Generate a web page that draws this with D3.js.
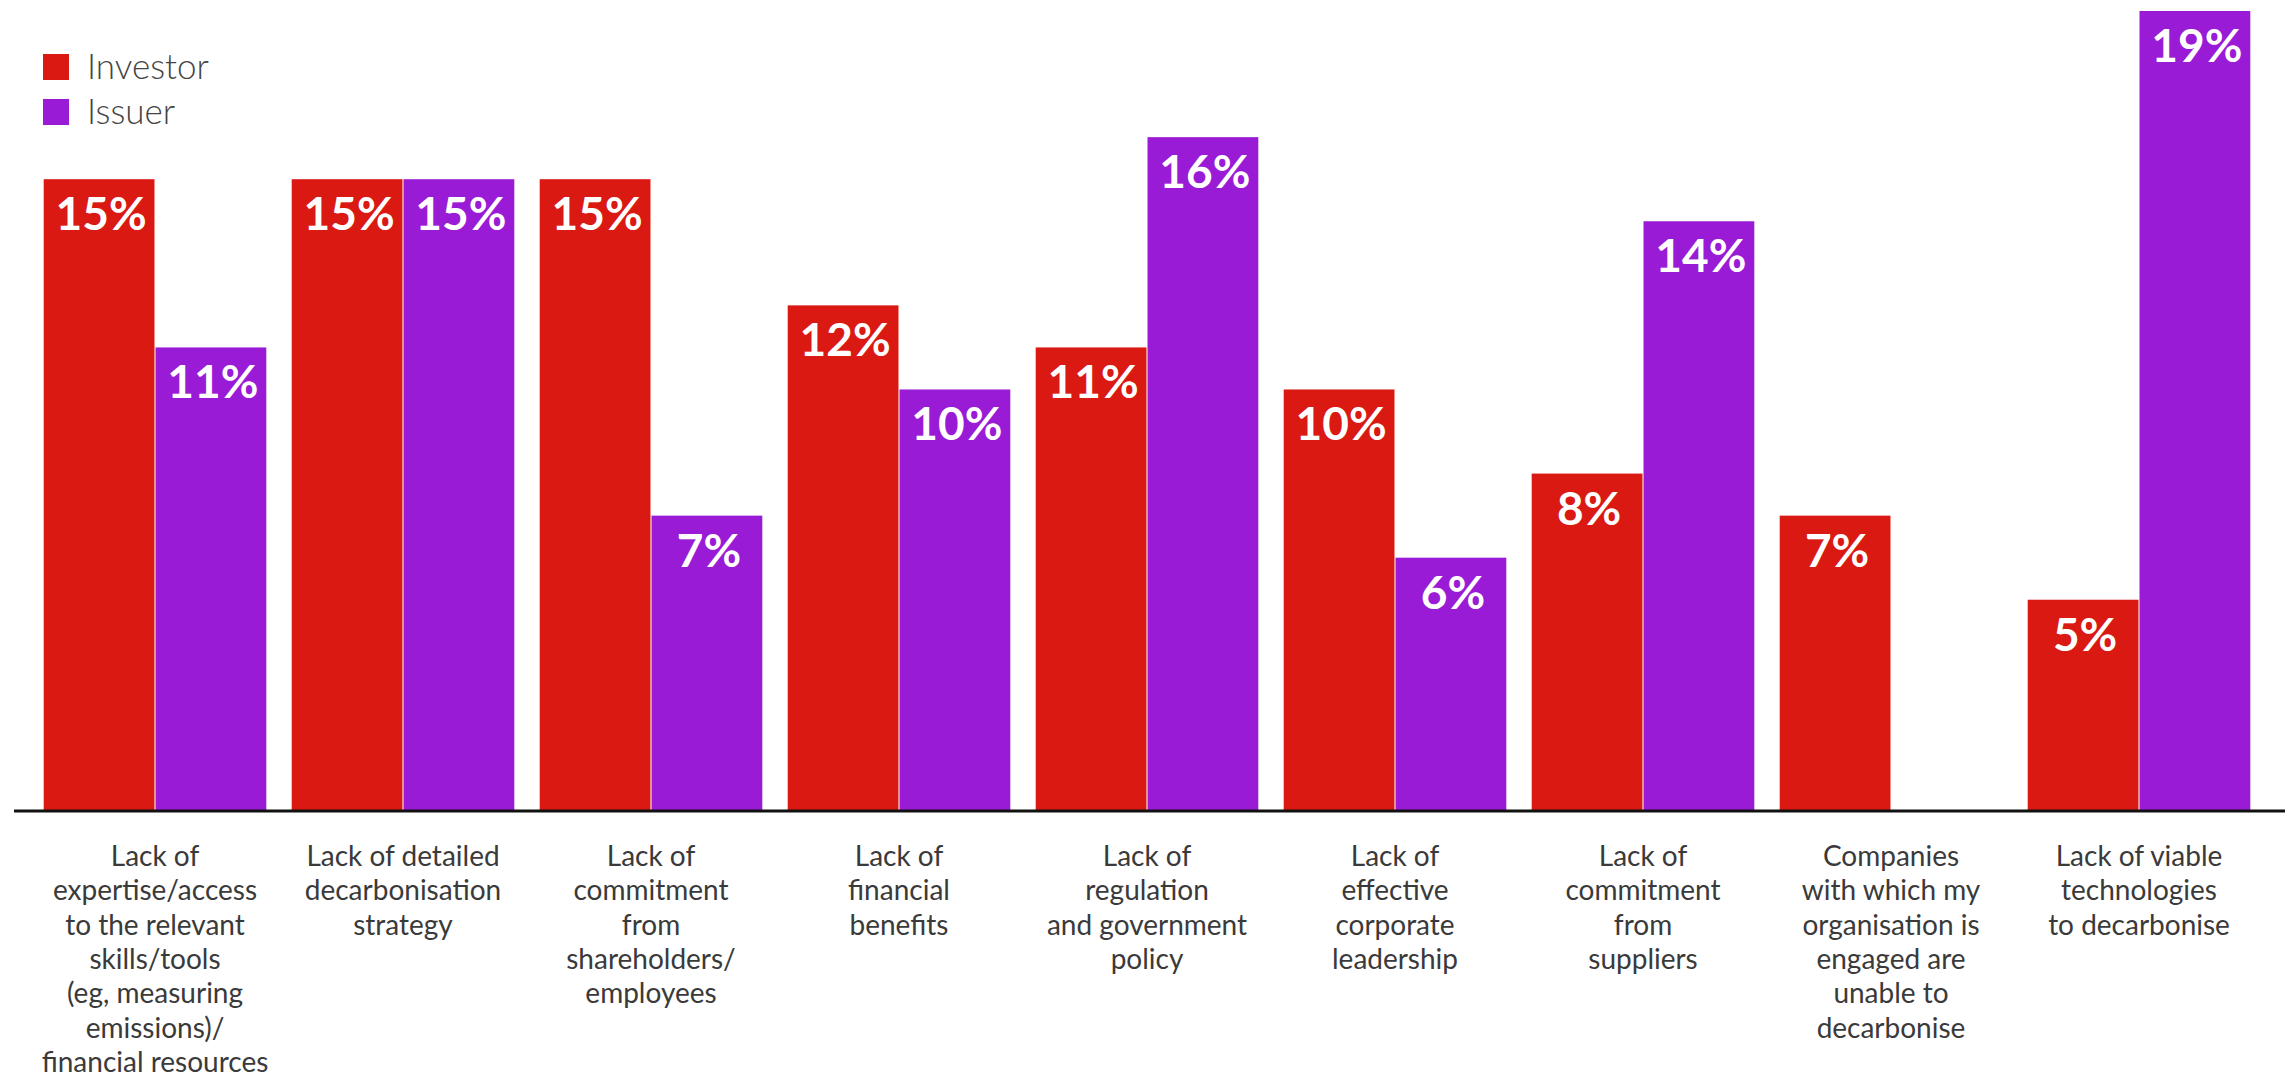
<!DOCTYPE html>
<html>
<head>
<meta charset="utf-8">
<script src="https://cdn.jsdelivr.net/npm/d3@7"></script>
<style>
  html, body { margin: 0; padding: 0; background: #fff; }
  svg { display: block; }
</style>
</head>
<body>
<svg id="chart" width="2285" height="1077"></svg>
<script>
// Barriers to decarbonisation, share of respondents (%)
const categories = [
  ["Lack of", "expertise/access", "to the relevant", "skills/tools", "(eg, measuring", "emissions)/", "financial resources"],
  ["Lack of detailed", "decarbonisation", "strategy"],
  ["Lack of", "commitment", "from", "shareholders/", "employees"],
  ["Lack of", "financial", "benefits"],
  ["Lack of", "regulation", "and government", "policy"],
  ["Lack of", "effective", "corporate", "leadership"],
  ["Lack of", "commitment", "from", "suppliers"],
  ["Companies", "with which my", "organisation is", "engaged are", "unable to", "decarbonise"],
  ["Lack of viable", "technologies", "to decarbonise"]
];
const seriesNames = ["Investor", "Issuer"];
const investorValues = [15, 15, 15, 12, 11, 10, 8, 7, 5];
const issuerValues = [11, 15, 7, 10, 16, 6, 14, null, 19];
const seriesColors = ["#da1913", "#991bd6"];

const svg = d3.select("#chart");
const W = 2285, H = 1077;
const baseY = 810;

const x0 = d3.scaleBand()
  .domain(d3.range(categories.length))
  .range([31, 2263])
  .paddingInner(0.1024)
  .paddingOuter(0.0512);

const x1 = d3.scaleBand()
  .domain(seriesNames)
  .range([0, x0.bandwidth()])
  .paddingInner(0.009);

const y = d3.scaleLinear().domain([0, 19]).range([baseY, 11]);

const color = d3.scaleOrdinal().domain(seriesNames).range(seriesColors);

const rows = categories.map((c, i) => ({
  i,
  lines: c,
  values: [
    { key: "Investor", value: investorValues[i] },
    { key: "Issuer", value: issuerValues[i] }
  ].filter(d => d.value != null)
}));

// bars
const groups = svg.append("g").selectAll("g")
  .data(rows).join("g")
  .attr("transform", d => `translate(${x0(d.i)},0)`);

groups.selectAll("rect")
  .data(d => d.values).join("rect")
  .attr("x", d => x1(d.key))
  .attr("y", d => y(d.value))
  .attr("width", x1.bandwidth())
  .attr("height", d => y(0) - y(d.value))
  .attr("fill", d => color(d.key));

// value labels inside bar tops
groups.selectAll("text.val")
  .data(d => d.values).join("text")
  .attr("class", "val")
  .attr("x", d => x1(d.key) + x1.bandwidth() / 2 + 2)
  .attr("y", d => y(d.value) + 51)
  .attr("text-anchor", "middle")
  .attr("fill", "#fff")
  .style("font-family", "Lato, 'Open Sans', sans-serif")
  .style("font-weight", 700)
  .style("font-size", "46px")
  .text(d => d.value + "%");

// baseline
svg.append("line")
  .attr("x1", 14).attr("x2", W)
  .attr("y1", baseY + 1).attr("y2", baseY + 1)
  .attr("stroke", "#111")
  .attr("stroke-width", 3);

// category labels
const labels = svg.append("g").selectAll("text")
  .data(rows).join("text")
  .attr("text-anchor", "middle")
  .attr("fill", "#3a3a3a")
  .style("font-family", "Lato, 'Open Sans', sans-serif")
  .style("font-size", "28px")
  .attr("transform", d => `translate(${x0(d.i) + x0.bandwidth() / 2},866)`);

labels.selectAll("tspan")
  .data(d => d.lines).join("tspan")
  .attr("x", 0)
  .attr("y", (d, j) => j * 34.3)
  .text(d => d);

// legend
const legend = svg.append("g").selectAll("g")
  .data(seriesNames).join("g")
  .attr("transform", (d, i) => `translate(43,${54 + i * 45})`);

legend.append("rect")
  .attr("width", 26).attr("height", 26)
  .attr("fill", d => color(d));

legend.append("text")
  .attr("x", 44).attr("y", 25)
  .attr("fill", "#444")
  .style("font-family", "Lato, 'Open Sans', sans-serif")
  .style("font-weight", 300)
  .style("font-size", "35px")
  .text(d => d);
</script>
</body>
</html>
